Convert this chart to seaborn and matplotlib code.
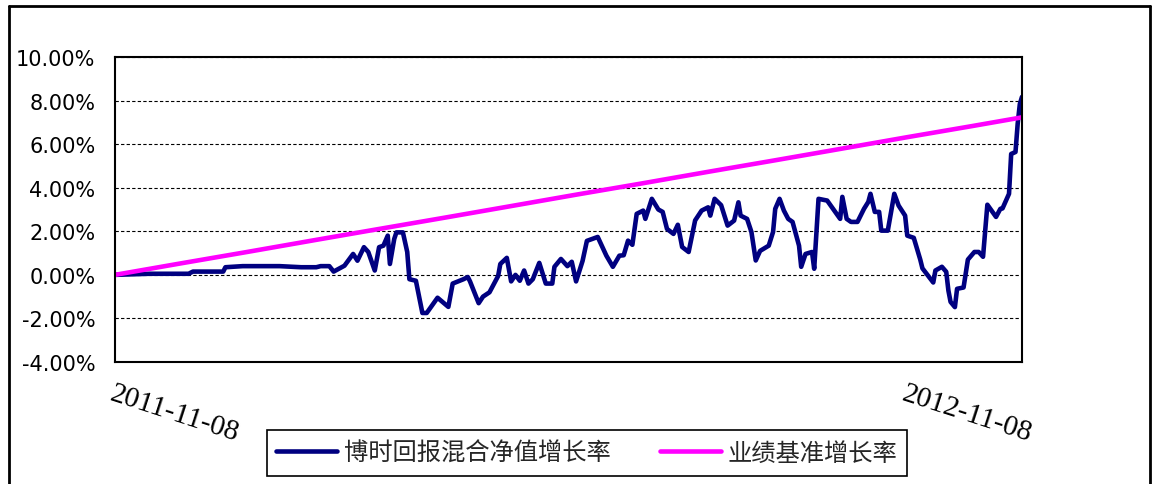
import pandas as pd
import seaborn as sns
import matplotlib.pyplot as plt
from matplotlib.lines import Line2D

sns.set_style("white")
plt.rcParams['font.family'] = ['DejaVu Sans']

FUND_NAME = "博时回报混合净值增长率"
BENCH_NAME = "业绩基准增长率"

# fund net value growth (%)
fund_dates = [
    "2011-11-08", "2011-11-24", "2011-12-12", "2011-12-14", "2011-12-28", "2011-12-29",
    "2012-01-06", "2012-01-23", "2012-02-02", "2012-02-09", "2012-02-11", "2012-02-15",
    "2012-02-17", "2012-02-22", "2012-02-26", "2012-02-28", "2012-03-02", "2012-03-04",
    "2012-03-07", "2012-03-09", "2012-03-11", "2012-03-13", "2012-03-14", "2012-03-16",
    "2012-03-17", "2012-03-20", "2012-03-22", "2012-03-23", "2012-03-26", "2012-03-29",
    "2012-03-31", "2012-04-05", "2012-04-10", "2012-04-12", "2012-04-17", "2012-04-19",
    "2012-04-20", "2012-04-24", "2012-04-26", "2012-04-29", "2012-05-03", "2012-05-04",
    "2012-05-07", "2012-05-09", "2012-05-11", "2012-05-13", "2012-05-15", "2012-05-17",
    "2012-05-19", "2012-05-22", "2012-05-25", "2012-05-28", "2012-05-29", "2012-06-01",
    "2012-06-04", "2012-06-06", "2012-06-08", "2012-06-11", "2012-06-13", "2012-06-18",
    "2012-06-22", "2012-06-25", "2012-06-28", "2012-06-30", "2012-07-02", "2012-07-04",
    "2012-07-06", "2012-07-09", "2012-07-10", "2012-07-13", "2012-07-16", "2012-07-18",
    "2012-07-20", "2012-07-23", "2012-07-25", "2012-07-27", "2012-07-30", "2012-08-02",
    "2012-08-05", "2012-08-08", "2012-08-09", "2012-08-11", "2012-08-14", "2012-08-17",
    "2012-08-20", "2012-08-22", "2012-08-23", "2012-08-26", "2012-08-28", "2012-08-30",
    "2012-09-01", "2012-09-05", "2012-09-07", "2012-09-08", "2012-09-10", "2012-09-12",
    "2012-09-14", "2012-09-16", "2012-09-19", "2012-09-20", "2012-09-22", "2012-09-25",
    "2012-09-26", "2012-09-28", "2012-10-02", "2012-10-08", "2012-10-09", "2012-10-11",
    "2012-10-13", "2012-10-16", "2012-10-19", "2012-10-21", "2012-10-22", "2012-10-24",
    "2012-10-26", "2012-10-27", "2012-10-30", "2012-11-02", "2012-11-04", "2012-11-07",
    "2012-11-08", "2012-11-11", "2012-11-14", "2012-11-15", "2012-11-20", "2012-11-21",
    "2012-11-24", "2012-11-26", "2012-11-27", "2012-11-28", "2012-11-30", "2012-12-01",
    "2012-12-04", "2012-12-06", "2012-12-09", "2012-12-11", "2012-12-13", "2012-12-15",
    "2012-12-19", "2012-12-21", "2012-12-22", "2012-12-25", "2012-12-26", "2012-12-28",
    "2012-12-29", "2012-12-30", "2012-12-31",
]
fund_values = [
    0.00, 0.05, 0.05, 0.15, 0.15, 0.35,
    0.40, 0.40, 0.35, 0.35, 0.40, 0.40,
    0.15, 0.42, 0.96, 0.65, 1.27, 1.05,
    0.20, 1.27, 1.34, 1.80, 0.50, 1.65,
    1.95, 1.95, 1.05, -0.20, -0.27, -1.75,
    -1.75, -1.05, -1.47, -0.40, -0.20, -0.10,
    -0.30, -1.30, -1.00, -0.80, -0.05, 0.50,
    0.78, -0.30, 0.00, -0.27, 0.20, -0.40,
    -0.20, 0.55, -0.40, -0.40, 0.37, 0.73,
    0.40, 0.60, -0.30, 0.64, 1.56, 1.74,
    0.88, 0.37, 0.88, 0.90, 1.57, 1.38,
    2.80, 2.95, 2.57, 3.49, 3.00, 2.89,
    2.11, 1.88, 2.30, 1.28, 1.05, 2.50,
    2.95, 3.10, 2.72, 3.49, 3.20, 2.26,
    2.49, 3.33, 2.72, 2.57, 1.97, 0.66,
    1.10, 1.34, 1.97, 3.03, 3.49, 2.95,
    2.57, 2.43, 1.34, 0.37, 0.96, 1.05,
    0.28, 3.49, 3.41, 2.57, 3.58, 2.57,
    2.43, 2.43, 3.03, 3.35, 3.72, 2.89,
    2.89, 2.03, 2.03, 3.72, 3.18, 2.72,
    1.80, 1.70, 0.70, 0.30, -0.35, 0.20,
    0.37, 0.14, -0.72, -1.24, -1.48, -0.64,
    -0.58, 0.70, 1.05, 1.05, 0.83, 3.22,
    2.66, 3.03, 3.05, 3.72, 5.55, 5.64,
    6.93, 7.84, 8.17,
]

# benchmark growth (%)
bench_dates = [
    "2011-11-08", "2011-12-08", "2012-01-08", "2012-02-08", "2012-03-08",
    "2012-04-08", "2012-05-08", "2012-06-08", "2012-07-08", "2012-08-08",
    "2012-09-08", "2012-10-08", "2012-11-08", "2012-12-08", "2012-12-31",
]
bench_values = [
    0.00, 0.52, 1.05, 1.59, 2.09,
    2.62, 3.14, 3.68, 4.19, 4.73,
    5.26, 5.78, 6.32, 6.83, 7.23,
]

y_ticks = [-4, -2, 0, 2, 4, 6, 8, 10]
x_tick_dates = ["2011-11-08", "2012-11-08"]

fund_df = pd.DataFrame({"date": pd.to_datetime(fund_dates), "value": fund_values})
bench_df = pd.DataFrame({"date": pd.to_datetime(bench_dates), "value": bench_values})

W, H = 1158, 485
fig = plt.figure(figsize=(W / 100, H / 100), dpi=100)
ax = fig.add_axes([115 / W, 1 - 363 / H, (1022 - 115) / W, (363 - 58) / H])

sns.lineplot(data=fund_df, x="date", y="value", color="#000080", lw=3.3,
             ax=ax, label=FUND_NAME)
sns.lineplot(data=bench_df, x="date", y="value", color="#FF00FF", lw=3.3,
             ax=ax, label=BENCH_NAME)

ax.set_xlim(pd.Timestamp("2011-11-08"), pd.Timestamp("2012-12-31"))
ax.set_ylim(-4, 10)
ax.set_yticks(y_ticks)
ax.set_yticklabels([f"{v:.2f}%" for v in y_ticks], fontsize=15)
ax.set_xticks(pd.to_datetime(x_tick_dates))
ax.set_xticklabels(x_tick_dates, rotation=-18, ha="left", va="top",
                   rotation_mode="anchor", family="Liberation Serif", fontsize=21)
ax.set_xlabel("")
ax.set_ylabel("")
ax.grid(axis="y", ls=(0, (3, 2)), color="black", lw=0.8)
ax.tick_params(axis="both", direction="in", length=5, width=1, colors="black")
ax.tick_params(axis="y", pad=14)
ax.tick_params(axis="x", pad=13)
for s in ax.spines.values():
    s.set_color("black")
    s.set_linewidth(1.5)

leg = ax.legend(loc="center", bbox_to_anchor=(587 / W, 1 - 454 / H),
                bbox_transform=fig.transFigure, ncol=2, frameon=True,
                fancybox=False, edgecolor="black", framealpha=1,
                prop={"family": ["Noto Sans CJK SC", "DejaVu Sans"], "size": 17.5},
                handlelength=2.5, handletextpad=0.3, columnspacing=2.0,
                borderpad=0.4, borderaxespad=0)
leg.get_frame().set_linewidth(1.2)

# outer chart border
fig.add_artist(Line2D([9 / W, 9 / W], [0, 1 - 7 / H], color="black", lw=2))
fig.add_artist(Line2D([9 / W, 1150 / W], [1 - 7 / H, 1 - 7 / H], color="black", lw=2))
fig.add_artist(Line2D([1150 / W, 1150 / W], [0, 1 - 7 / H], color="black", lw=2))

fig.savefig("out.png", dpi=100)
